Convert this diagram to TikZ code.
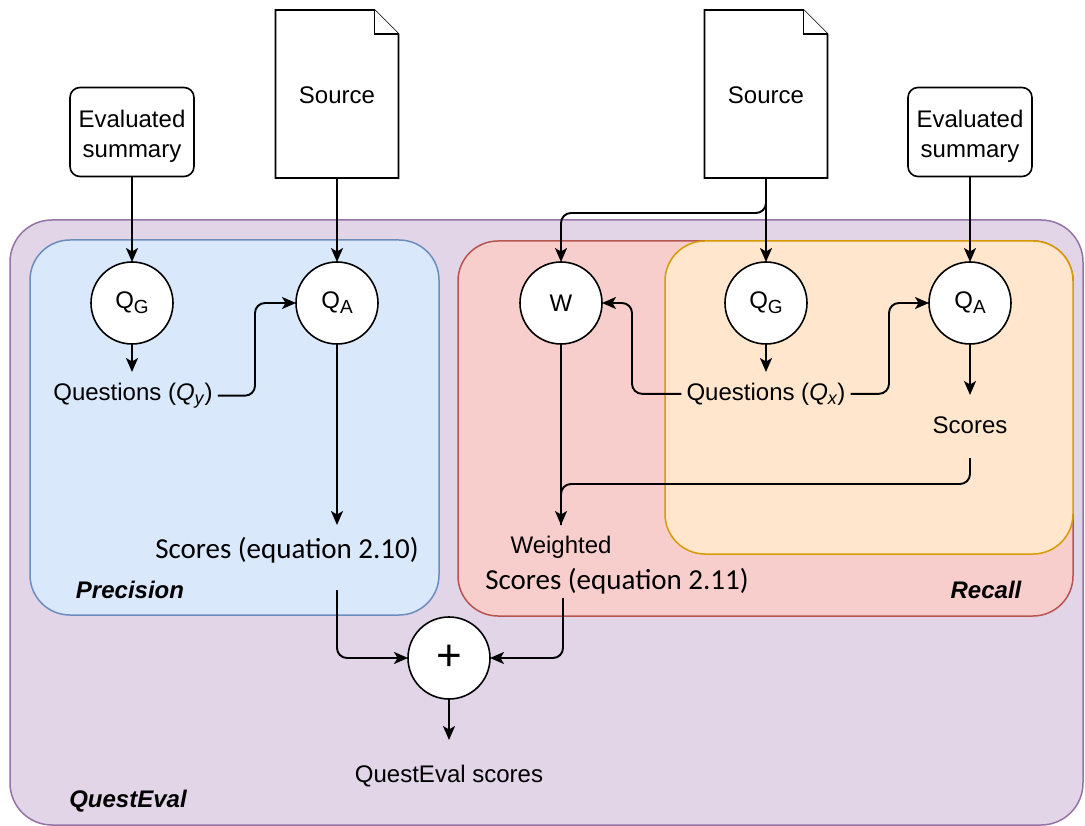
\documentclass[tikz,border=0pt]{standalone}
\usepackage{fontspec}
\setmainfont{Liberation Sans}
\newfontfamily\calib{Carlito}
\usetikzlibrary{arrows.meta,calc}
\definecolor{pfill}{HTML}{E1D5E7}
\definecolor{pline}{HTML}{9673A6}
\definecolor{bfill}{HTML}{DAE8FC}
\definecolor{bline}{HTML}{6C8EBF}
\definecolor{rfill}{HTML}{F8CECC}
\definecolor{rline}{HTML}{B85450}
\definecolor{ofill}{HTML}{FFE6CC}
\definecolor{oline}{HTML}{D79B00}
\newcommand{\qsub}[1]{Q\raisebox{-5pt}{\fontsize{19}{19}\selectfont #1}}
\newcommand{\qisub}[1]{\textit{Q}\raisebox{-5pt}{\fontsize{18}{18}\selectfont\textit{#1}}}
\newcommand{\evtext}{\raisebox{-5pt}[\height][\depth]{\begin{tabular}{@{}c@{}}Evaluated\\[3pt]summary\end{tabular}}}
\begin{document}
\begin{tikzpicture}[x=1pt,y=-1pt,
  font=\fontsize{24}{27}\selectfont,
  >={Stealth[length=14pt,width=12pt,inset=3.5pt]},
  conn/.style={draw=black,line width=1.9pt,->,rounded corners=10pt},
  plainline/.style={draw=black,line width=1.9pt,rounded corners=10pt},
  proc/.style={circle,draw=black,line width=1.6pt,fill=white,minimum size=82pt,inner sep=0pt,outer sep=0pt},
  evalbox/.style={draw=black,line width=1.6pt,fill=white,rounded corners=10pt,minimum width=124pt,minimum height=89pt,inner sep=0pt,outer sep=0pt},
  docbox/.style={minimum width=123pt,minimum height=168pt,inner sep=0pt,outer sep=0pt},
  docline/.style={draw=black,line width=1.6pt,fill=white},
  lbl/.style={inner sep=5pt,anchor=base},
  calbl/.style={inner sep=5pt,anchor=base,font=\calib\fontsize{29}{32}\selectfont},
  grplbl/.style={inner sep=2pt,anchor=base,font=\bfseries\itshape\fontsize{24}{27}\selectfont},
  grp/.style={line width=1.5pt,rounded corners=42pt}]
\fill[white] (0,0) rectangle (1085,826);
\useasboundingbox (0,0) rectangle (1085,826);
% groups
\draw[grp,draw=pline,fill=pfill] (10,220) rectangle (1083,825);
\draw[grp,draw=bline,fill=bfill,rounded corners=40pt] (30,240) rectangle (439,615);
\draw[grp,draw=rline,fill=rfill,rounded corners=40pt] (458,241) rectangle (1073,616);
\draw[grp,draw=oline,fill=ofill,rounded corners=40pt] (665,241) rectangle (1073,554);
% inputs
\node[evalbox] (es1) at (132,132) {\evtext};
\node[evalbox] (es2) at (970,132) {\evtext};
\node[docbox] (src1) at (337,94) {};
\node[docbox] (src2) at (766,94) {};
\foreach \d in {src1,src2}{
  \draw[docline] (\d.north west) -- ($(\d.north east)+(-24,0)$) -- ($(\d.north east)+(0,24)$) -- (\d.south east) -- (\d.south west) -- cycle;
  \draw[docline] ($(\d.north east)+(-24,0)$) -- ($(\d.north east)+(-24,24)$) -- ($(\d.north east)+(0,24)$);
}
\node[lbl] (srct1) at (337,104) {Source};
\node[lbl] (srct2) at (766,104) {Source};
% processes
\node[proc] (qg1) at (132,303) {\qsub{G}};
\node[proc] (qa1) at (337,303) {\qsub{A}};
\node[proc] (w) at (561,303) {W};
\node[proc] (qg2) at (766,303) {\qsub{G}};
\node[proc] (qa2) at (970,303) {\qsub{A}};
\node[proc] (plus) at (449,658) {\fontsize{44}{44}\selectfont +};
% text labels
\node[lbl] (qy) at (133,400) {Questions (\qisub{y})};
\node[lbl] (qx) at (766,400) {Questions (\qisub{x})};
\node[lbl] (scr) at (970,433) {Scores};
\node[calbl] (s210) at (287,558) {Scores (equation 2.10)};
\node[lbl] (wtd) at (561,553) {Weighted};
\node[calbl] (s211) at (617,589) {Scores (equation 2.11)};
\node[lbl] (qes) at (449,782) {QuestEval scores};
\node[grplbl] (lprec) at (130,598) {Precision};
\node[grplbl] (lrec) at (986,598) {Recall};
\node[grplbl] (lqe) at (128,807) {QuestEval};
% coordinates
\coordinate (a210) at (337,525);
\coordinate (p1) at (337,590);
\coordinate (p2) at (563,598);
\coordinate (aqes) at (449,740);
\coordinate (wturn) at (561,213);
\coordinate (wturn2) at (632,303);
\coordinate (qaturn1) at (255,303);
\coordinate (qaturn2) at (889,303);
\coordinate (sc1) at (970,458);
\coordinate (mj) at (561,484);
\coordinate (aw) at (561,525);
\coordinate (aqg1) at (132,372);
\coordinate (aqg2) at (766,372);
\coordinate (aqa2) at (970,395);
% connectors
\draw[conn] (es1.south) -- (qg1.north);
\draw[conn] (src1.south) -- (qa1.north);
\draw[conn] (qg1.south) -- (aqg1);
\draw[conn] (qy.east) -| (qaturn1) -- (qa1.west);
\draw[conn] (qa1.south) -- (a210);
\draw[conn] (p1) |- (plus.west);
\draw[conn] (p2) |- (plus.east);
\draw[conn] (plus.south) -- (aqes);
\draw[conn] (src2.south) -- (qg2.north);
\draw[conn] (src2.south) |- (wturn) -- (w.north);
\draw[conn] (es2.south) -- (qa2.north);
\draw[conn] (qg2.south) -- (aqg2);
\draw[conn] (qx.west) -| (wturn2) -- (w.east);
\draw[conn] (qx.east) -| (qaturn2) -- (qa2.west);
\draw[conn] (qa2.south) -- (aqa2);
\draw[plainline] (sc1) |- (mj) -- (aw);
\draw[conn] (w.south) -- (aw);
\end{tikzpicture}
\end{document}
